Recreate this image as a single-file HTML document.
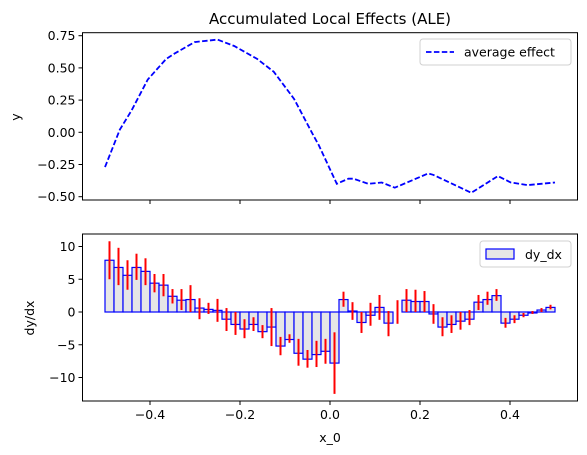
<!DOCTYPE html>
<html><head><meta charset="utf-8"><style>
body{margin:0;background:#fff}
svg{display:block;font-family:"DejaVu Sans","Liberation Sans",sans-serif}
</style></head><body>
<svg id="chart" width="587" height="455" viewBox="0 0 587 455"></svg>
<script>
const lineX=[-0.5,-0.467,-0.441,-0.405,-0.364,-0.346,-0.301,-0.25,-0.213,-0.162,-0.125,-0.08,-0.036,-0.025,0.015,0.041,0.052,0.085,0.115,0.144,0.218,0.229,0.314,0.373,0.402,0.439,0.5];
const lineY=[-0.27,0.02,0.17,0.41,0.57,0.61,0.70,0.72,0.67,0.57,0.47,0.26,-0.03,-0.10,-0.40,-0.36,-0.36,-0.40,-0.39,-0.43,-0.32,-0.33,-0.47,-0.34,-0.39,-0.41,-0.39];
const barVals=[7.9,6.8,5.6,6.8,6.2,4.4,4.1,2.4,1.8,1.9,0.6,0.4,0.25,-1.1,-1.9,-2.6,-1.9,-3.0,-2.3,-5.2,-4.2,-6.3,-7.2,-6.5,-6.0,-7.8,1.9,0.15,-1.6,-0.5,0.7,-1.7,0,1.8,1.6,1.6,-0.3,-2.3,-1.9,-1.4,-1.1,1.5,1.9,2.5,-1.7,-1.1,-0.5,-0.15,0.3,0.7];
const errHi=[10.8,9.8,7.9,8.9,8.2,5.8,5.8,3.5,3.5,4.1,2.1,1.4,2.0,0.6,0,-1.1,-0.8,-2.0,0.6,-3.8,-3.4,-4.1,-5.8,-4.4,-4.1,-3.1,3.1,1.5,0,1.4,2.6,0.15,1.8,3.5,3.4,3.2,1.2,-0.8,-0.5,0,0.3,2.6,3.1,3.5,-0.9,-0.5,-0.15,0.15,0.6,1.1];
const errLo=[5.0,4.1,3.4,4.9,4.1,3.0,2.4,1.3,0.3,0,-1.1,-0.3,-1.5,-2.9,-3.5,-4.0,-2.9,-4.0,-5.2,-6.6,-4.7,-8.2,-8.5,-8.4,-7.9,-12.5,0.8,-1.2,-3.2,-2.1,-1.2,-3.7,-1.8,0,0,0,-1.8,-3.7,-3.2,-2.7,-2.0,0.3,1.1,1.7,-2.4,-1.7,-0.8,-0.3,0,0.4];
const xTicks=[-0.4,-0.2,0.0,0.2,0.4];
const xTickLabels=["\u22120.4","\u22120.2","0.0","0.2","0.4"];
const yTopTicks=[0.75,0.5,0.25,0,-0.25,-0.5];
const yTopLabels=["0.75","0.50","0.25","0.00","\u22120.25","\u22120.50"];
const yBotTicks=[10,5,0,-5,-10];
const yBotLabels=["10","5","0","\u22125","\u221210"];

const svg=document.getElementById('chart');
const NS='http://www.w3.org/2000/svg';
function mk(tag,attrs,parent){const e=document.createElementNS(NS,tag);for(const k in attrs)e.setAttribute(k,attrs[k]);(parent||svg).appendChild(e);return e;}
const L=82.5,R=577.5;
const sx=v=>330+v*450;
const T1=32.7,B1=200;
const sy1=v=>132.3-v*128.8;
const T2=234,B2=401;
const sy2=v=>312-v*6.55;

let t=mk('text',{x:330,y:24,'text-anchor':'middle','font-size':15,fill:'#000'});


t.textContent='Accumulated Local Effects (ALE)';

let d=lineX.map((x,i)=>(i?'L':'M')+sx(x).toFixed(1)+' '+sy1(lineY[i]).toFixed(1)).join(' ');
let p=mk('path',{d:d,fill:'none',stroke:'#0000ff','stroke-width':1.8,'stroke-dasharray':'5.5 2.4'});



const w=0.02;
barVals.forEach((v,i)=>{
  const x0=-0.5+i*w;
  const r=mk('rect',{x:sx(x0),y:Math.min(sy2(v),sy2(0)),width:sx(x0+w)-sx(x0),height:Math.abs(sy2(v)-sy2(0)),fill:'#e6e6e6',stroke:'#0000ff','stroke-width':1.2});
  
  
});
barVals.forEach((v,i)=>{
  const xc=sx(-0.5+i*w+w/2);
  const l=mk('line',{x1:xc,x2:xc,y1:sy2(errHi[i]),y2:sy2(errLo[i]),stroke:'#ff0000','stroke-width':2});
  
  
});

let f1=mk('rect',{x:L,y:T1,width:R-L,height:B1-T1,fill:'none',stroke:'#000','stroke-width':1});


let f2=mk('rect',{x:L,y:T2,width:R-L,height:B2-T2,fill:'none',stroke:'#000','stroke-width':1});



xTicks.forEach((v,i)=>{
  const x=sx(v);
  mk('line',{x1:x,x2:x,y1:B1,y2:B1+4,stroke:'#000'});
  mk('line',{x1:x,x2:x,y1:B2,y2:B2+4,stroke:'#000'});
  const tx=mk('text',{x:x,y:B2+18,'text-anchor':'middle','font-size':12.5});
  
  
  tx.textContent=xTickLabels[i];
});
yTopTicks.forEach((v,i)=>{
  const y=sy1(v);
  mk('line',{x1:L-4,x2:L,y1:y,y2:y,stroke:'#000'});
  const tx=mk('text',{x:L-7,y:y+4.5,'text-anchor':'end','font-size':12.5});
  
  
  tx.textContent=yTopLabels[i];
});
yBotTicks.forEach((v,i)=>{
  const y=sy2(v);
  mk('line',{x1:L-4,x2:L,y1:y,y2:y,stroke:'#000'});
  const tx=mk('text',{x:L-7,y:y+4.5,'text-anchor':'end','font-size':12.5});
  
  
  tx.textContent=yBotLabels[i];
});

let a=mk('text',{x:20,y:117,'text-anchor':'middle','font-size':12.5,transform:'rotate(-90 20 117)'});


a.textContent='y';
a=mk('text',{x:34,y:318,'text-anchor':'middle','font-size':12.5,transform:'rotate(-90 34 318)'});


a.textContent='dy/dx';
a=mk('text',{x:330,y:442,'text-anchor':'middle','font-size':12.5});


a.textContent='x_0';

let lg=mk('g',{});


mk('rect',{x:420,y:39,width:151,height:26,rx:3,fill:'#fff',stroke:'#d0d0d0'},lg);
mk('line',{x1:426,x2:454,y1:52,y2:52,stroke:'#0000ff','stroke-width':1.8,'stroke-dasharray':'5.5 2.4'},lg);
let lt=mk('text',{x:464,y:56.5,'font-size':12.5},lg);lt.textContent='average effect';
lg=mk('g',{});


mk('rect',{x:480,y:241,width:91,height:26,rx:3,fill:'#fff',stroke:'#d0d0d0'},lg);
mk('rect',{x:486,y:249,width:28,height:10,fill:'#e6e6e6',stroke:'#0000ff','stroke-width':1.2},lg);
lt=mk('text',{x:525,y:259,'font-size':12.5},lg);lt.textContent='dy_dx';
</script>
</body></html>
